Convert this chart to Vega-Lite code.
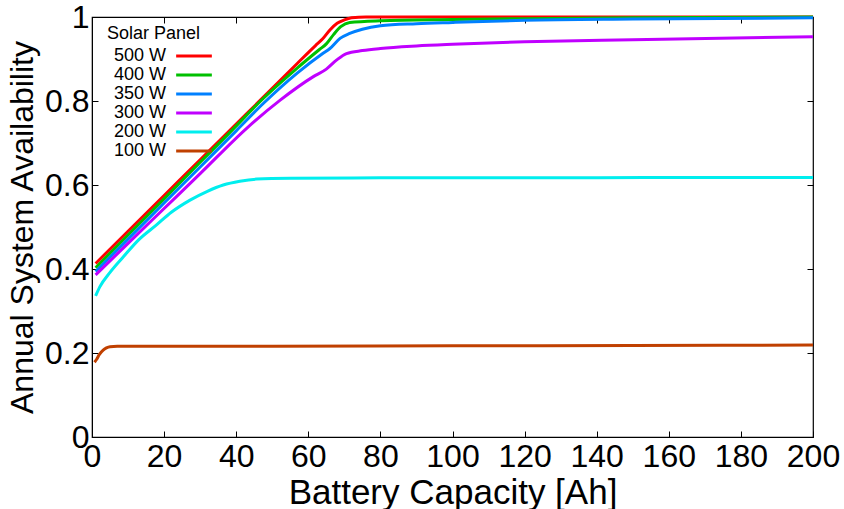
{
  "$schema": "https://vega.github.io/schema/vega-lite/v6.json",
  "width": 721,
  "height": 420,
  "autosize": "none",
  "padding": {"left": 92, "top": 17, "right": 31, "bottom": 72},
  "background": "white",
  "config": {
    "view": {"stroke": "black", "strokeWidth": 1.2},
    "font": "Liberation Sans",
    "axis": {
      "grid": false,
      "domainColor": "black",
      "tickColor": "black",
      "tickSize": -6,
      "labelColor": "black",
      "titleColor": "black",
      "labelFont": "Liberation Sans",
      "titleFont": "Liberation Sans",
      "labelFontSize": 32,
      "titleFontSize": 32,
      "titleFontWeight": "normal"
    }
  },
  "data": {
    "values": [
      {"s": "500 W", "x": 1, "v": 0.413}, {"s": "500 W", "x": 10, "v": 0.490}, {"s": "500 W", "x": 20, "v": 0.575},
      {"s": "500 W", "x": 30, "v": 0.660}, {"s": "500 W", "x": 40, "v": 0.745}, {"s": "500 W", "x": 50, "v": 0.830},
      {"s": "500 W", "x": 57, "v": 0.890}, {"s": "500 W", "x": 62, "v": 0.932}, {"s": "500 W", "x": 64, "v": 0.948},
      {"s": "500 W", "x": 66, "v": 0.969}, {"s": "500 W", "x": 68, "v": 0.985}, {"s": "500 W", "x": 70, "v": 0.993},
      {"s": "500 W", "x": 72, "v": 0.998}, {"s": "500 W", "x": 76, "v": 1.0}, {"s": "500 W", "x": 100, "v": 1.0},
      {"s": "500 W", "x": 150, "v": 1.0}, {"s": "500 W", "x": 200, "v": 1.0},

      {"s": "400 W", "x": 1, "v": 0.403}, {"s": "400 W", "x": 10, "v": 0.481}, {"s": "400 W", "x": 20, "v": 0.567},
      {"s": "400 W", "x": 30, "v": 0.654}, {"s": "400 W", "x": 38, "v": 0.723}, {"s": "400 W", "x": 47.5, "v": 0.806},
      {"s": "400 W", "x": 57, "v": 0.879}, {"s": "400 W", "x": 63, "v": 0.922}, {"s": "400 W", "x": 65, "v": 0.936},
      {"s": "400 W", "x": 67, "v": 0.958}, {"s": "400 W", "x": 69, "v": 0.977}, {"s": "400 W", "x": 71.5, "v": 0.987},
      {"s": "400 W", "x": 80, "v": 0.991}, {"s": "400 W", "x": 100, "v": 0.994}, {"s": "400 W", "x": 120, "v": 0.996},
      {"s": "400 W", "x": 150, "v": 0.998}, {"s": "400 W", "x": 200, "v": 1.0},

      {"s": "350 W", "x": 1, "v": 0.394}, {"s": "350 W", "x": 10, "v": 0.471}, {"s": "350 W", "x": 20, "v": 0.557},
      {"s": "350 W", "x": 30, "v": 0.643}, {"s": "350 W", "x": 40, "v": 0.729}, {"s": "350 W", "x": 47.5, "v": 0.794},
      {"s": "350 W", "x": 57, "v": 0.867}, {"s": "350 W", "x": 64, "v": 0.913}, {"s": "350 W", "x": 66, "v": 0.925},
      {"s": "350 W", "x": 68.8, "v": 0.949}, {"s": "350 W", "x": 71.5, "v": 0.961}, {"s": "350 W", "x": 75, "v": 0.971},
      {"s": "350 W", "x": 80, "v": 0.979}, {"s": "350 W", "x": 90, "v": 0.984}, {"s": "350 W", "x": 100, "v": 0.987},
      {"s": "350 W", "x": 120, "v": 0.992}, {"s": "350 W", "x": 150, "v": 0.995}, {"s": "350 W", "x": 200, "v": 0.998},

      {"s": "300 W", "x": 1, "v": 0.386}, {"s": "300 W", "x": 10, "v": 0.461}, {"s": "300 W", "x": 20, "v": 0.544},
      {"s": "300 W", "x": 30, "v": 0.627}, {"s": "300 W", "x": 42.9, "v": 0.735}, {"s": "300 W", "x": 52.2, "v": 0.802},
      {"s": "300 W", "x": 61.4, "v": 0.858}, {"s": "300 W", "x": 65, "v": 0.876}, {"s": "300 W", "x": 67.9, "v": 0.898},
      {"s": "300 W", "x": 70.6, "v": 0.913}, {"s": "300 W", "x": 75, "v": 0.920}, {"s": "300 W", "x": 80, "v": 0.925},
      {"s": "300 W", "x": 90, "v": 0.931}, {"s": "300 W", "x": 100, "v": 0.935}, {"s": "300 W", "x": 120, "v": 0.941},
      {"s": "300 W", "x": 150, "v": 0.946}, {"s": "300 W", "x": 200, "v": 0.953},

      {"s": "200 W", "x": 1, "v": 0.336}, {"s": "200 W", "x": 2.2, "v": 0.358}, {"s": "200 W", "x": 5, "v": 0.392},
      {"s": "200 W", "x": 8.7, "v": 0.429}, {"s": "200 W", "x": 13, "v": 0.470}, {"s": "200 W", "x": 17.9, "v": 0.505},
      {"s": "200 W", "x": 22, "v": 0.535}, {"s": "200 W", "x": 27.2, "v": 0.564}, {"s": "200 W", "x": 32, "v": 0.585},
      {"s": "200 W", "x": 36.4, "v": 0.600}, {"s": "200 W", "x": 41, "v": 0.609}, {"s": "200 W", "x": 45.7, "v": 0.614},
      {"s": "200 W", "x": 55, "v": 0.616}, {"s": "200 W", "x": 80, "v": 0.617}, {"s": "200 W", "x": 120, "v": 0.617},
      {"s": "200 W", "x": 160, "v": 0.618}, {"s": "200 W", "x": 200, "v": 0.618},

      {"s": "100 W", "x": 0.7, "v": 0.178}, {"s": "100 W", "x": 1.3, "v": 0.185}, {"s": "100 W", "x": 2, "v": 0.196},
      {"s": "100 W", "x": 3.1, "v": 0.207}, {"s": "100 W", "x": 4, "v": 0.212}, {"s": "100 W", "x": 5, "v": 0.215},
      {"s": "100 W", "x": 7, "v": 0.216}, {"s": "100 W", "x": 20, "v": 0.216}, {"s": "100 W", "x": 50, "v": 0.216},
      {"s": "100 W", "x": 100, "v": 0.217}, {"s": "100 W", "x": 150, "v": 0.218}, {"s": "100 W", "x": 200, "v": 0.219}
    ]
  },
  "layer": [
    {
      "mark": {"type": "line", "opacity": 0},
      "encoding": {
        "x": {"field": "x", "type": "quantitative", "scale": {"domain": [0, 200], "nice": false},
              "axis": {"orient": "top", "labels": false, "title": null, "domain": false, "values": [20, 40, 60, 80, 100, 120, 140, 160, 180]}},
        "y": {"field": "v", "type": "quantitative", "scale": {"domain": [0, 1], "nice": false, "zero": true},
              "axis": {"orient": "right", "labels": false, "title": null, "domain": false, "values": [0.2, 0.4, 0.6, 0.8]}},
        "detail": {"field": "s"}
      }
    },
    {
      "mark": {"type": "line", "strokeWidth": 3, "interpolate": "monotone"},
      "encoding": {
        "x": {"field": "x", "type": "quantitative", "scale": {"domain": [0, 200], "nice": false},
              "axis": {"orient": "bottom", "title": "Battery Capacity [Ah]", "values": [0, 20, 40, 60, 80, 100, 120, 140, 160, 180, 200],
                       "labelPadding": 10, "titlePadding": 3, "titleFontSize": 35, "labelFlush": false}},
        "y": {"field": "v", "type": "quantitative", "scale": {"domain": [0, 1], "nice": false},
              "axis": {"orient": "left", "title": "Annual System Availability", "values": [0, 0.2, 0.4, 0.6, 0.8, 1],
                       "format": "~g", "labelPadding": 9, "titlePadding": 5, "labelFlush": false}},
        "color": {
          "field": "s", "type": "nominal",
          "scale": {"domain": ["500 W", "400 W", "350 W", "300 W", "200 W", "100 W"],
                    "range": ["#ff0000", "#00c000", "#0080ff", "#c000ff", "#00eeee", "#c04000"]},
          "legend": {
            "title": "Solar Panel", "orient": "none", "legendX": 15, "legendY": 8,
            "symbolType": "M-2.1,0H2.1", "symbolSize": 289, "symbolStrokeWidth": 3, "symbolOffset": 77,
            "labelFontSize": 18, "labelFont": "Liberation Sans", "labelColor": "black",
            "labelAlign": "right", "labelOffset": -38,
            "titleFontSize": 18, "titleFont": "Liberation Sans", "titleFontWeight": "normal", "titleColor": "black",
            "rowPadding": 0, "titlePadding": 3, "padding": 0
          }
        }
      }
    }
  ]
}
